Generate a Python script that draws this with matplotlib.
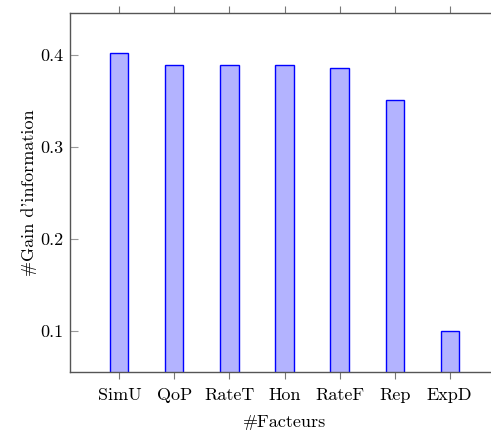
import matplotlib
matplotlib.use("Agg")
import matplotlib.pyplot as plt

# gain d'information par facteur
facteurs = ["SimU", "QoP", "RateT", "Hon", "RateF", "Rep", "ExpD"]
gains = [0.402, 0.390, 0.390, 0.390, 0.386, 0.351, 0.100]

plt.rcParams["font.family"] = ["cmr10", "DejaVu Serif"]
plt.rcParams["mathtext.fontset"] = "cm"
plt.rcParams["axes.formatter.use_mathtext"] = True
plt.rcParams["font.size"] = 13

fig = plt.figure(figsize=(4.91, 4.30), dpi=100)
# axes box runs past the right edge of the picture, as in the original
ax = fig.add_axes([70 / 491, 58 / 430, 429 / 491, 359 / 430])

x = list(range(len(facteurs)))
ax.bar(x, gains, width=0.33, color="#b3b3ff", edgecolor="#0000ff", linewidth=1.0, zorder=2)

ax.set_xlim(-0.896, 6.896)
ax.set_ylim(0.0558, 0.446)
ax.set_xticks(x)
ax.set_xticklabels(facteurs)
ax.set_yticks([0.1, 0.2, 0.3, 0.4])
ax.set_yticklabels(["0.1", "0.2", "0.3", "0.4"])

for side in ["left", "top", "bottom"]:
    ax.spines[side].set_color("#555555")
    ax.spines[side].set_linewidth(1.0)
ax.spines["right"].set_visible(False)

ax.tick_params(axis="x", direction="out", length=5, width=0.8, color="#777777",
               top=True, bottom=True, labeltop=False, pad=6)
ax.tick_params(axis="y", direction="in", length=6, width=0.8, color="#999999", pad=5,
               right=False)

ax.set_xlabel("#Facteurs", labelpad=9)
ax.set_ylabel("#Gain d'information", labelpad=2)

fig.savefig("out.png", dpi=100, facecolor="white")
